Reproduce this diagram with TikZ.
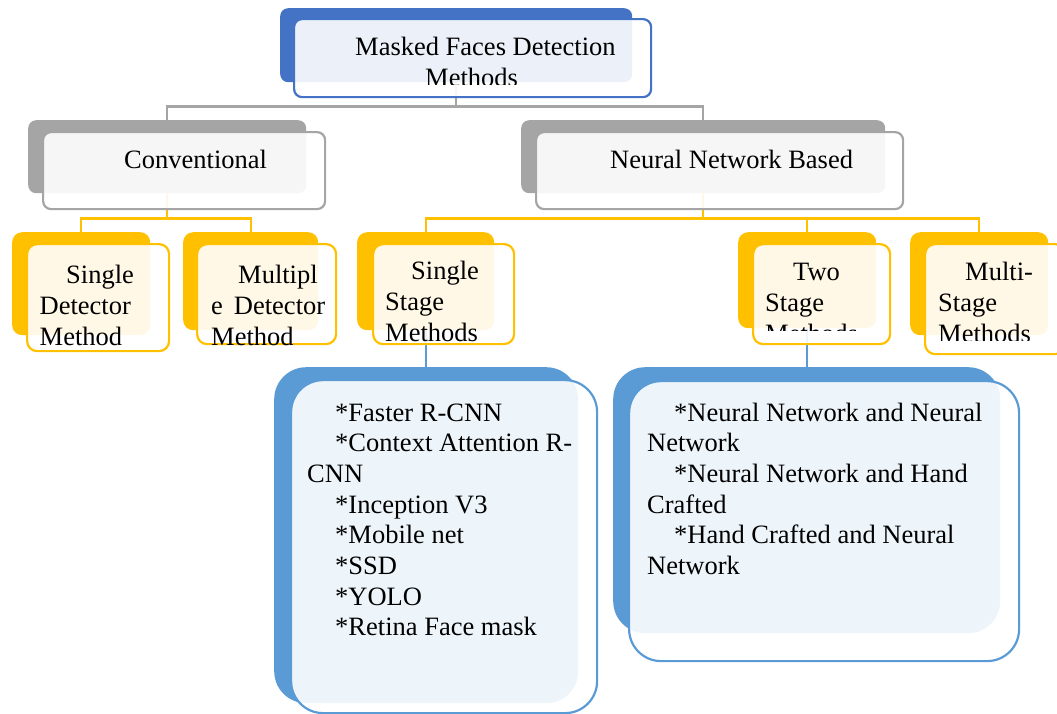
\documentclass[tikz,border=0pt]{standalone}
\usepackage{fontspec}
\setmainfont{Liberation Serif}
\definecolor{cTop}{HTML}{4472C4}
\definecolor{cGray}{HTML}{A5A5A5}
\definecolor{cYel}{HTML}{FFC000}
\definecolor{cList}{HTML}{5B9BD5}
\begin{document}
\begin{tikzpicture}[x=1pt,y=-1pt,
  backbox/.style={rectangle, rounded corners=#1, inner sep=0pt, anchor=north west, draw=none},
  frontbox/.style={rectangle, rounded corners=#1, inner sep=0pt, anchor=north west, fill=white, fill opacity=0.9, line width=2.2pt},
  lbl/.style={anchor=base west, inner sep=0pt, text=black, font=\fontsize{26.5}{31}\selectfont},
  lbll/.style={anchor=base west, inner sep=0pt, text=black, font=\fontsize{26.5}{30.7}\selectfont},
  conn/.style={line width=2.2pt}]
\useasboundingbox (0,0) rectangle (1057,713);
% back shapes
\node[backbox=8pt, fill=cTop, minimum width=352pt, minimum height=74pt] (topb) at (280,8) {};
\node[backbox=8pt, fill=cGray, minimum width=278pt, minimum height=73pt] (convb) at (28,120) {};
\node[backbox=8pt, fill=cGray, minimum width=364pt, minimum height=73pt] (nnb) at (521,120) {};
\node[backbox=10pt, fill=cYel, minimum width=138pt, minimum height=103pt] (sdb) at (12,232) {};
\node[backbox=10pt, fill=cYel, minimum width=135pt, minimum height=98pt] (mdb) at (183,232) {};
\node[backbox=10pt, fill=cYel, minimum width=137pt, minimum height=98pt] (ssb) at (357,232) {};
\node[backbox=10pt, fill=cYel, minimum width=138pt, minimum height=96pt] (tsb) at (738,232) {};
\node[backbox=10pt, fill=cYel, minimum width=138pt, minimum height=103pt] (msb) at (910,232) {};
\node[backbox=32pt, fill=cList, minimum width=304pt, minimum height=336pt] (lab) at (274,367) {};
\node[backbox=32pt, fill=cList, minimum width=387pt, minimum height=266pt] (lbb) at (613,367) {};
% connectors
\draw[conn, draw=cGray] (topb.south) -- ++(0,24) coordinate (j1) -| (convb.north);
\draw[conn, draw=cGray] (j1) -| (nnb.north);
\draw[conn, draw=cYel] (convb.south) -- ++(0,25) coordinate (j2) -| (sdb.north);
\draw[conn, draw=cYel] (j2) -| (mdb.north);
\draw[conn, draw=cYel] (nnb.south) -- ++(0,25) coordinate (j3) -| (ssb.north);
\draw[conn, draw=cYel] (j3) -| (tsb.north);
\draw[conn, draw=cYel] (j3) -| (msb.north);
\draw[conn, draw=cList] (ssb.south) -- (ssb.south |- lab.north);
\draw[conn, draw=cList] (tsb.south) -- (tsb.south |- lbb.north);
% front shapes
\node[frontbox=8pt, draw=cTop, minimum width=357pt, minimum height=78pt] (topf) at (293,18) {};
\node[frontbox=8pt, draw=cGray, minimum width=282pt, minimum height=77pt] (convf) at (42,131) {};
\node[frontbox=8pt, draw=cGray, minimum width=367pt, minimum height=77pt] (nnf) at (535,131) {};
\node[frontbox=10pt, draw=cYel, minimum width=142pt, minimum height=107pt] (sdf) at (26,243) {};
\node[frontbox=10pt, draw=cYel, minimum width=139pt, minimum height=100pt] (mdf) at (196,243) {};
\node[frontbox=10pt, draw=cYel, minimum width=141pt, minimum height=100pt] (ssf) at (372,243) {};
\node[frontbox=10pt, draw=cYel, minimum width=137pt, minimum height=100pt] (tsf) at (752,243) {};
\node[frontbox=10pt, draw=cYel, minimum width=140pt, minimum height=110pt] (msf) at (924,243) {};
\node[frontbox=32pt, draw=cList, minimum width=306pt, minimum height=333pt] (laf) at (290,379) {};
\node[frontbox=32pt, draw=cList, minimum width=390pt, minimum height=280pt] (lbf) at (628,380) {};
% texts
\begin{scope}
\clip (0,0) rectangle (1057,84);
\node[lbl] (ttop) at (355,55) {\begin{tabular}[t]{@{}l@{}}Masked Faces Detection\\\hspace*{70pt}Methods\end{tabular}};
\end{scope}
\node[lbl] (tconv) at (124,168) {Conventional};
\node[lbl] (tnn) at (610,168) {Neural Network Based};
\node[lbl] (tsd) at (39.5,283) {\begin{tabular}[t]{@{}l@{}}\hspace*{26.5pt}Single\\Detector\\Method\end{tabular}};
\node[lbl] (tmd) at (211,283) {\begin{tabular}[t]{@{}l@{}}\hspace*{27pt}Multipl\\e\hspace*{11pt}Detector\\Method\end{tabular}};
\node[lbl] (tss) at (385,279) {\begin{tabular}[t]{@{}l@{}}\hspace*{26pt}Single\\Stage\\Methods\end{tabular}};
\begin{scope}
\clip (0,0) rectangle (1057,330);
\node[lbl] (tts) at (765,280) {\begin{tabular}[t]{@{}l@{}}\hspace*{28pt}Two\\Stage\\Methods\end{tabular}};
\end{scope}
\begin{scope}
\clip (0,0) rectangle (1057,340);
\node[lbl] (tms) at (938,280) {\begin{tabular}[t]{@{}l@{}}\hspace*{27pt}Multi-\\Stage\\Methods\end{tabular}};
\end{scope}
\node[lbll] (tla) at (307,421) {\begin{tabular}[t]{@{}l@{}}\hspace*{28pt}*Faster R-CNN\\\hspace*{28pt}*Context Attention R-\\CNN\\\hspace*{28pt}*Inception V3\\\hspace*{28pt}*Mobile net\\\hspace*{28pt}*SSD\\\hspace*{28pt}*YOLO\\\hspace*{28pt}*Retina Face mask\end{tabular}};
\node[lbll] (tlb) at (647,421) {\begin{tabular}[t]{@{}l@{}}\hspace*{27pt}*Neural Network and Neural\\Network\\\hspace*{27pt}*Neural Network and Hand\\Crafted\\\hspace*{27pt}*Hand Crafted and Neural\\Network\end{tabular}};
\end{tikzpicture}
\end{document}
